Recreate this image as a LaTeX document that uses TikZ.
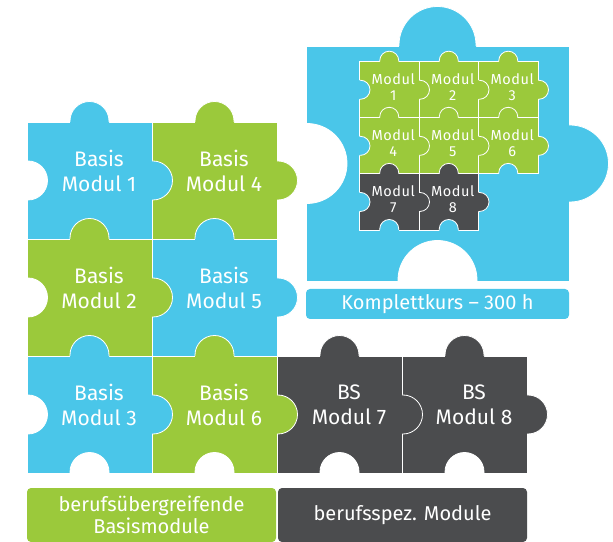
\documentclass[tikz,border=0pt]{standalone}
\usepackage{fontspec}
\setmainfont{Fira Sans}
\newfontfamily\modulfont[LetterSpace=4]{Fira Sans}
\usepackage{xcolor}
\definecolor{puzzle-blue}{HTML}{4AC6E9}
\definecolor{puzzle-green}{HTML}{9BC93B}
\definecolor{puzzle-dark}{HTML}{4B4C4E}

% x, y, width, height, colour
\newcommand{\puzzlepiece}[5]{%
  \filldraw[fill=#5, draw=white, line width=0.8pt] (#1,#2) rectangle ++(#3,#4);}
% x, y, rotation, radius, colour
\newcommand{\puzzleknob}[5]{%
  \begin{scope}[shift={(#1,#2)}, rotate=#3]
    \fill[#5] (-#4,-1) -- (-#4,1) arc (180:0:#4) -- (#4,-1) -- cycle;
    \draw[white, line width=0.8pt] (-#4,0) -- (-#4,1) arc (180:0:#4) -- (#4,0);
  \end{scope}}

\tikzset{
  piecetext/.style={text=white, align=center, inner sep=0pt, font=\fontsize{21}{25}\selectfont},
  smalltext/.style={text=white, align=center, inner sep=0pt, font=\modulfont\fontsize{14.5}{16}\selectfont},
  labelbox/.style={text=white, align=center, rounded corners=4pt, inner sep=0pt, font=\fontsize{20}{22.5}\selectfont}
}

\begin{document}
\begin{tikzpicture}[x=1pt, y=1pt]

    \useasboundingbox (0,0) rectangle (613,541);

    % Complete course piece
    \puzzlepiece{306}{260}{263}{235}{puzzle-blue}
    \puzzleknob{437.5}{495}{0}{38.5}{puzzle-blue}
    \puzzleknob{569}{377.5}{-90}{38.5}{puzzle-blue}
    \puzzleknob{306}{377.5}{-90}{40}{white}
    \puzzleknob{437.5}{260}{0}{39.5}{white}

    % Small modules
    \puzzlepiece{359.5}{423.2}{59.5}{56.1}{puzzle-green}
    \puzzlepiece{419}{423.2}{59.5}{56.1}{puzzle-green}
    \puzzlepiece{478.5}{423.2}{59.5}{56.1}{puzzle-green}
    \puzzlepiece{359.5}{367.1}{59.5}{56.1}{puzzle-green}
    \puzzlepiece{419}{367.1}{59.5}{56.1}{puzzle-green}
    \puzzlepiece{478.5}{367.1}{59.5}{56.1}{puzzle-green}
    \puzzlepiece{359.5}{311}{59.5}{56.1}{puzzle-dark}
    \puzzlepiece{419}{311}{59.5}{56.1}{puzzle-dark}

    \puzzleknob{389.25}{479.3}{0}{9.5}{puzzle-green}
    \puzzleknob{448.75}{479.3}{0}{9.5}{puzzle-green}
    \puzzleknob{508.25}{479.3}{0}{9.5}{puzzle-green}
    \puzzleknob{389.25}{423.2}{0}{9.5}{puzzle-green}
    \puzzleknob{448.75}{423.2}{0}{9.5}{puzzle-green}
    \puzzleknob{508.25}{423.2}{0}{9.5}{puzzle-green}
    \puzzleknob{389.25}{367.1}{0}{9.5}{puzzle-dark}
    \puzzleknob{448.75}{367.1}{0}{9.5}{puzzle-dark}
    \puzzleknob{419}{451.25}{-90}{9.5}{puzzle-green}
    \puzzleknob{478.5}{451.25}{-90}{9.5}{puzzle-green}
    \puzzleknob{538}{451.25}{-90}{9.5}{puzzle-green}
    \puzzleknob{419}{395.15}{-90}{9.5}{puzzle-green}
    \puzzleknob{478.5}{395.15}{-90}{9.5}{puzzle-green}
    \puzzleknob{538}{395.15}{-90}{9.5}{puzzle-green}
    \puzzleknob{419}{339.05}{-90}{9.5}{puzzle-dark}
    \puzzleknob{478.5}{339.05}{-90}{9.5}{puzzle-dark}
    \puzzleknob{359.5}{451.25}{-90}{9.5}{puzzle-blue}
    \puzzleknob{359.5}{395.15}{-90}{9.5}{puzzle-blue}
    \puzzleknob{359.5}{339.05}{-90}{9.5}{puzzle-blue}
    \puzzleknob{508.25}{367.1}{0}{9.5}{puzzle-blue}
    \puzzleknob{389.25}{311}{0}{9.5}{puzzle-blue}
    \puzzleknob{448.75}{311}{0}{9.5}{puzzle-blue}

    \node[smalltext] (modul1) at (393.25,454.25) {Modul\\1};
    \node[smalltext] (modul2) at (452.75,454.25) {Modul\\2};
    \node[smalltext] (modul3) at (512.25,454.25) {Modul\\3};
    \node[smalltext] (modul4) at (393.25,398.15) {Modul\\4};
    \node[smalltext] (modul5) at (452.75,398.15) {Modul\\5};
    \node[smalltext] (modul6) at (512.25,398.15) {Modul\\6};
    \node[smalltext] (modul7) at (393.25,342.05) {Modul\\7};
    \node[smalltext] (modul8) at (452.75,342.05) {Modul\\8};

    \node[labelbox, fill=puzzle-blue, minimum width=263pt, minimum height=30pt] (komplett) at (437.5,237) {Komplettkurs – 300 h};

    % Basic and specific modules
    \puzzlepiece{27}{302}{125}{117}{puzzle-blue}
    \puzzlepiece{152}{302}{125}{117}{puzzle-green}
    \puzzlepiece{27}{185}{125}{117}{puzzle-green}
    \puzzlepiece{152}{185}{125}{117}{puzzle-blue}
    \puzzlepiece{27}{68}{125}{117}{puzzle-blue}
    \puzzlepiece{152}{68}{125}{117}{puzzle-green}
    \puzzlepiece{277}{68}{125}{117}{puzzle-dark}
    \puzzlepiece{402}{68}{125}{117}{puzzle-dark}

    \puzzleknob{89.5}{419}{0}{19.5}{puzzle-blue}
    \puzzleknob{214.5}{419}{0}{19.5}{puzzle-green}
    \puzzleknob{89.5}{302}{0}{19.5}{puzzle-green}
    \puzzleknob{214.5}{302}{0}{19.5}{puzzle-blue}
    \puzzleknob{89.5}{185}{0}{19.5}{puzzle-blue}
    \puzzleknob{214.5}{185}{0}{19.5}{puzzle-green}
    \puzzleknob{339.5}{185}{0}{19.5}{puzzle-dark}
    \puzzleknob{464.5}{185}{0}{19.5}{puzzle-dark}
    \puzzleknob{152}{360.5}{-90}{19.5}{puzzle-blue}
    \puzzleknob{277}{360.5}{-90}{19.5}{puzzle-green}
    \puzzleknob{152}{243.5}{-90}{19.5}{puzzle-green}
    \puzzleknob{277}{243.5}{-90}{19.5}{puzzle-blue}
    \puzzleknob{152}{126.5}{-90}{19.5}{puzzle-blue}
    \puzzleknob{277}{126.5}{-90}{19.5}{puzzle-green}
    \puzzleknob{402}{126.5}{-90}{19.5}{puzzle-dark}
    \puzzleknob{527}{126.5}{-90}{19.5}{puzzle-dark}
    \puzzleknob{27}{360.5}{-90}{19.5}{white}
    \puzzleknob{27}{243.5}{-90}{19.5}{white}
    \puzzleknob{27}{126.5}{-90}{19.5}{white}
    \puzzleknob{89.5}{68}{0}{19.5}{white}
    \puzzleknob{214.5}{68}{0}{19.5}{white}
    \puzzleknob{339.5}{68}{0}{19.5}{white}
    \puzzleknob{464.5}{68}{0}{19.5}{white}

    \node[piecetext] (basis1) at (99,370) {Basis\\Modul 1};
    \node[piecetext] (basis4) at (224,370) {Basis\\Modul 4};
    \node[piecetext] (basis2) at (99,253) {Basis\\Modul 2};
    \node[piecetext] (basis5) at (224,253) {Basis\\Modul 5};
    \node[piecetext] (basis3) at (99,136) {Basis\\Modul 3};
    \node[piecetext] (basis6) at (224,136) {Basis\\Modul 6};
    \node[piecetext] (bs7) at (349,136) {BS\\Modul 7};
    \node[piecetext] (bs8) at (474,136) {BS\\Modul 8};

    % Legend
    \node[labelbox, fill=puzzle-green, minimum width=249pt, minimum height=54pt] (basislegend) at (151.5,26) {berufsübergreifende\\Basismodule};
    \node[labelbox, fill=puzzle-dark, minimum width=249pt, minimum height=54pt] (bslegend) at (402.5,26) {berufsspez. Module};

\end{tikzpicture}
\end{document}
